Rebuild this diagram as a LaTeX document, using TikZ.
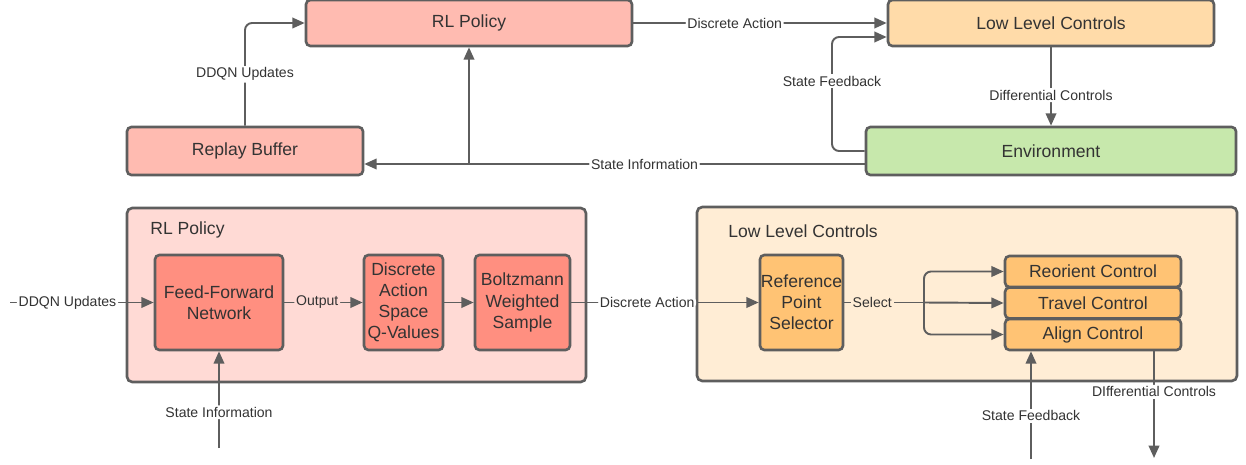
\documentclass[tikz,border=0pt]{standalone}
\usepackage{fontspec}
\setmainfont{Liberation Sans}
\usetikzlibrary{arrows.meta}
\definecolor{edgegray}{HTML}{5E5E5E}
\definecolor{textgray}{HTML}{333333}
\definecolor{redlight}{HTML}{FFBBB1}
\definecolor{redpale}{HTML}{FFDAD5}
\definecolor{redmid}{HTML}{FF8F80}
\definecolor{orangelight}{HTML}{FFDBA9}
\definecolor{orangepale}{HTML}{FFEDD5}
\definecolor{orangemid}{HTML}{FFC374}
\definecolor{greenlight}{HTML}{C7E8AC}
\tikzset{
    box/.style={draw=edgegray, line width=1.5pt, rounded corners=2.5pt, text=textgray,
        font=\fontsize{10}{12}\selectfont, align=center, inner sep=0pt},
    container/.style={box, rounded corners=3pt},
    title/.style={text=textgray, font=\fontsize{10}{12}\selectfont, inner sep=0pt, anchor=west},
    link/.style={draw=edgegray, line width=1.1pt, ->, rounded corners=4pt},
    lbl/.style={fill=white, text=textgray, font=\fontsize{8}{9.5}\selectfont, inner sep=1pt},
}
\begin{document}
\begin{tikzpicture}[>={Triangle[length=7pt,width=6pt]}]
    \useasboundingbox (0,0) rectangle (24.92,-9.30);
    \def\rowy{-6.05}

    \node[box, fill=redlight, minimum width=6.52cm, minimum height=0.92cm] (toppolicy) at (9.38,-0.46) {RL Policy};
    \node[box, fill=orangelight, minimum width=6.52cm, minimum height=0.92cm] (topcontrols) at (21.02,-0.46) {Low Level Controls};
    \node[box, fill=redlight, minimum width=4.72cm, minimum height=0.96cm] (buffer) at (4.90,-3.02) {Replay Buffer};
    \node[box, fill=greenlight, minimum width=7.40cm, minimum height=0.96cm] (env) at (21.02,-3.02) {Environment};
    \coordinate (infoy) at (0,-3.28);
    \coordinate (fbcorner) at (16.64,-0.74);

    \draw[link] (buffer.north) |- node[lbl, pos=0.25] {DDQN Updates} (toppolicy.west);
    \draw[link] (toppolicy.east) -- node[lbl, pos=0.40] {Discrete Action} (topcontrols.west);
    \draw[link] (topcontrols) -- node[lbl, pos=0.61] {Differential Controls} (env);
    \draw[link] (env.west) -| node[lbl, pos=0.807] {State Feedback} (fbcorner) -- (fbcorner -| topcontrols.west);
    \draw[link] (env.west |- infoy) -- node[lbl, pos=0.44] {State Information} (buffer.east |- infoy);
    \draw[link] (toppolicy.south |- infoy) -- (toppolicy.south);

    \node[container, fill=redpale, minimum width=9.18cm, minimum height=3.48cm] (policybox) at (7.13,-5.90) {};
    \node[title] (policytitle) at (3.00,-4.60) {RL Policy};
    \node[box, fill=redmid, minimum width=2.56cm, minimum height=1.90cm] (ffn) at (4.38,\rowy) {Feed-Forward\\Network};
    \node[box, fill=redmid, minimum width=1.58cm, minimum height=1.90cm] (qvalues) at (8.07,\rowy) {Discrete\\Action\\Space\\Q-Values};
    \node[box, fill=redmid, minimum width=1.90cm, minimum height=1.90cm] (boltz) at (10.45,\rowy) {Boltzmann\\Weighted\\Sample};

    \node[container, fill=orangepale, minimum width=10.80cm, minimum height=3.48cm] (controlbox) at (19.34,-5.88) {};
    \node[title] (controltitle) at (14.56,-4.62) {Low Level Controls};
    \node[box, fill=orangemid, minimum width=1.66cm, minimum height=1.90cm] (selector) at (16.03,\rowy) {Reference\\Point\\Selector};
    \node[box, fill=orangemid, minimum width=3.52cm, minimum height=0.62cm] (reorient) at (21.86,-5.43) {Reorient Control};
    \node[box, fill=orangemid, minimum width=3.52cm, minimum height=0.62cm] (travel) at (21.86,-6.06) {Travel Control};
    \node[box, fill=orangemid, minimum width=3.52cm, minimum height=0.62cm] (align) at (21.86,-6.69) {Align Control};

    \coordinate (updstart) at (0.20,\rowy);
    \coordinate (fork) at (18.48,\rowy);
    \coordinate (infostart) at (4.38,-8.96);
    \coordinate (fbstart) at (20.62,-9.18);
    \coordinate (diffend) at (23.08,-9.16);

    \draw[link] (updstart) -- node[lbl, pos=0.40] {DDQN Updates} (ffn.west);
    \draw[link] (ffn.east) -- node[lbl, fill=redpale, pos=0.42] {Output} (qvalues.west);
    \draw[link] (qvalues.east) -- (boltz.west);
    \draw[link] (boltz.east) -- node[lbl, pos=0.405] {Discrete Action} (selector.west);
    \draw[draw=edgegray, line width=1.1pt] (selector.east) -- node[lbl, fill=orangepale, pos=0.35] {Select} (fork);
    \draw[link] (fork) |- (reorient.west);
    \draw[link] (fork) -- (travel.west);
    \draw[link] (fork) |- (align.west);
    \draw[link] (infostart) -- node[lbl, pos=0.37] {State Information} (ffn.south);
    \draw[link] (fbstart) -- node[lbl, pos=0.40] {State Feedback} (fbstart |- align.south);
    \draw[link] (diffend |- align.south) -- node[lbl, pos=0.38] {DIfferential Controls} (diffend);
\end{tikzpicture}
\end{document}
